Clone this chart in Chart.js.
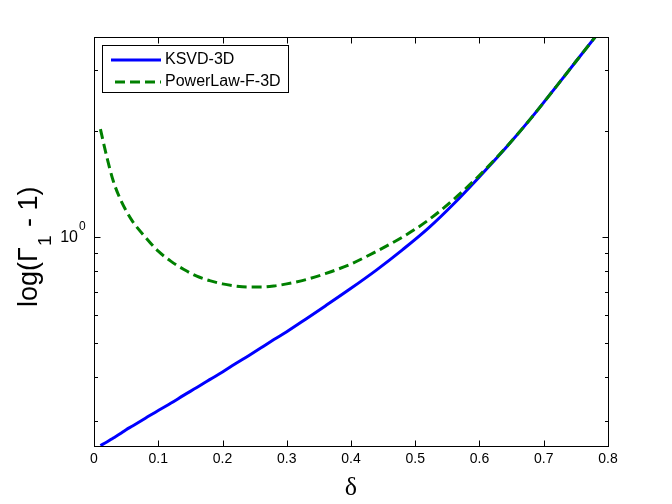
<!DOCTYPE html>
<html>
<head>
<meta charset="utf-8">
<script src="https://cdn.jsdelivr.net/npm/chart.js@4.4.0/dist/chart.umd.min.js"></script>
<style>
  html, body { margin: 0; padding: 0; background: #fff; }
</style>
</head>
<body>
<canvas id="deltaChart" width="672" height="504"></canvas>
<script>
// nilai delta (sumbu x)
const deltaValues = [0.01, 0.02, 0.03, 0.04, 0.05, 0.06, 0.08, 0.10, 0.12, 0.14, 0.16, 0.18, 0.20, 0.22, 0.24, 0.26,
  0.28, 0.30, 0.33, 0.36, 0.40, 0.44, 0.48, 0.52, 0.56, 0.60, 0.64, 0.68, 0.72, 0.75, 0.78];

// Gamma_1 - 1 untuk tiap seri
const ksvdValues = [0.255, 0.261, 0.268, 0.275, 0.283, 0.290, 0.305, 0.321, 0.337, 0.355, 0.373, 0.393, 0.413, 0.436,
  0.459, 0.484, 0.511, 0.538, 0.585, 0.637, 0.715, 0.807, 0.920, 1.059, 1.245, 1.486, 1.787, 2.178, 2.692, 3.162, 3.714];
const powerLawValues = [2.030, 1.690, 1.445, 1.294, 1.189, 1.109, 1.000, 0.912, 0.853, 0.809, 0.774, 0.752, 0.736, 0.726,
  0.721, 0.721, 0.726, 0.736, 0.757, 0.787, 0.839, 0.912, 1.000, 1.117, 1.282, 1.500, 1.791, 2.178, 2.692, 3.162, 3.714];

const seriesLabels = ["KSVD-3D", "PowerLaw-F-3D"];

// tick sumbu
const xTickValues = [0, 0.1, 0.2, 0.3, 0.4, 0.5, 0.6, 0.7, 0.8];
const xTickLabels = ["0", "0.1", "0.2", "0.3", "0.4", "0.5", "0.6", "0.7", "0.8"];
const yTickValues = [0.3, 0.4, 0.5, 0.6, 0.7, 0.8, 0.9, 1, 2, 3];
const yTickLabels = ["", "", "", "", "", "", "", "10", "", ""];
const yTickExponents = ["", "", "", "", "", "", "", "0", "", ""];
const yMajorTicks = [1];

document.addEventListener("DOMContentLoaded", function () {
  const blue = "#0000ff";
  const green = "#008000";
  const sans = "'Liberation Sans', Arial, sans-serif";

  // kotak sumbu, tick ke dalam, legenda dan judul sumbu y
  const framePlugin = {
    id: "frame",
    afterDraw(chart) {
      const ctx = chart.ctx;
      const area = chart.chartArea;
      const x = chart.scales.x;
      const y = chart.scales.y;
      const L = Math.round(area.left) + 0.5;
      const R = Math.round(area.right) + 0.5;
      const T = Math.round(area.top) + 0.5;
      const B = Math.round(area.bottom) + 0.5;

      ctx.save();
      ctx.strokeStyle = "#000";
      ctx.lineWidth = 1;
      ctx.strokeRect(L, T, R - L, B - T);
      ctx.beginPath();
      xTickValues.forEach((v) => {
        const px = Math.round(x.getPixelForValue(v)) + 0.5;
        ctx.moveTo(px, B); ctx.lineTo(px, B - 6);
        ctx.moveTo(px, T); ctx.lineTo(px, T + 6);
      });
      yTickValues.forEach((v) => {
        const py = Math.round(y.getPixelForValue(v)) + 0.5;
        const len = yMajorTicks.includes(v) ? 6 : 3.5;
        ctx.moveTo(L, py); ctx.lineTo(L + len, py);
        ctx.moveTo(R, py); ctx.lineTo(R - len, py);
      });
      ctx.stroke();

      // pangkat label tick y (10^0)
      ctx.fillStyle = "#000";
      ctx.font = "12px " + sans;
      ctx.textAlign = "left";
      ctx.textBaseline = "middle";
      yTickValues.forEach((v, i) => {
        if (yTickExponents[i]) {
          ctx.fillText(yTickExponents[i], 79, y.getPixelForValue(v) - 10);
        }
      });

      // legenda
      ctx.fillStyle = "#fff";
      ctx.fillRect(102.5, 45.5, 186, 47);
      ctx.strokeStyle = "#000";
      ctx.strokeRect(102.5, 45.5, 186, 47);
      const rows = [60, 82];
      chart.data.datasets.forEach((ds, i) => {
        ctx.beginPath();
        ctx.strokeStyle = ds.borderColor;
        ctx.lineWidth = 3;
        ctx.setLineDash(ds.borderDash || []);
        ctx.lineDashOffset = ds.borderDash ? -4 : 0;
        ctx.moveTo(111, rows[i]);
        ctx.lineTo(161, rows[i]);
        ctx.stroke();
        ctx.setLineDash([]);
        ctx.fillStyle = "#000";
        ctx.font = "16px " + sans;
        ctx.textAlign = "left";
        ctx.textBaseline = "middle";
        ctx.fillText(ds.label, 165, rows[i]);
      });

      // judul sumbu y: log(Γ_1 - 1)
      ctx.translate(37, 307);
      ctx.rotate(-Math.PI / 2);
      ctx.fillStyle = "#000";
      ctx.textBaseline = "alphabetic";
      ctx.font = "27px " + sans;
      ctx.fillText("log(\u0393", 0, 0);
      const w1 = ctx.measureText("log(\u0393").width;
      ctx.font = "19px " + sans;
      ctx.fillText("1", w1 + 1, 14);
      const w2 = ctx.measureText("1").width;
      ctx.font = "27px " + sans;
      ctx.fillText(" - 1)", w1 + w2 + 2, 0);
      ctx.restore();
    },
  };

  const ctx = document.getElementById("deltaChart").getContext("2d");
  new Chart(ctx, {
    type: "line",
    data: {
      datasets: [
        {
          label: seriesLabels[0],
          data: deltaValues.map((d, i) => ({ x: d, y: ksvdValues[i] })),
          borderColor: blue,
          borderWidth: 3,
          pointRadius: 0,
          fill: false,
          cubicInterpolationMode: "monotone",
          order: 1,
        },
        {
          label: seriesLabels[1],
          data: deltaValues.map((d, i) => ({ x: d, y: powerLawValues[i] })),
          borderColor: green,
          borderWidth: 3,
          borderDash: [10, 5],
          pointRadius: 0,
          fill: false,
          cubicInterpolationMode: "monotone",
          order: 0,
        },
      ],
    },
    options: {
      responsive: false,
      animation: false,
      layout: { padding: { top: 37, right: 64, left: 0, bottom: 0 } },
      plugins: { legend: { display: false }, tooltip: { enabled: false } },
      scales: {
        x: {
          type: "linear",
          min: 0,
          max: 0.8,
          grid: { display: false, drawTicks: false },
          border: { display: false },
          afterBuildTicks: (s) => { s.ticks = xTickValues.map((v) => ({ value: v })); },
          afterFit: (s) => { s.height = 58; },
          ticks: {
            callback: (v, i) => xTickLabels[i],
            color: "#000",
            font: { family: sans, size: 14 },
            padding: 5,
            maxRotation: 0,
            autoSkip: false,
          },
          title: {
            display: true,
            text: "\u03b4",
            color: "#000",
            font: { family: "'Liberation Serif', 'Times New Roman', serif", size: 26 },
            padding: { top: 0, bottom: 0 },
          },
        },
        y: {
          type: "logarithmic",
          min: 0.2543,
          max: 3.714,
          grid: { display: false, drawTicks: false },
          border: { display: false },
          afterBuildTicks: (s) => { s.ticks = yTickValues.map((v) => ({ value: v })); },
          afterFit: (s) => { s.width = 94; },
          ticks: {
            callback: (v, i) => yTickLabels[i],
            color: "#000",
            font: { family: sans, size: 16 },
            padding: 16,
            autoSkip: false,
          },
        },
      },
    },
    plugins: [framePlugin],
  });
});
</script>
</body>
</html>
